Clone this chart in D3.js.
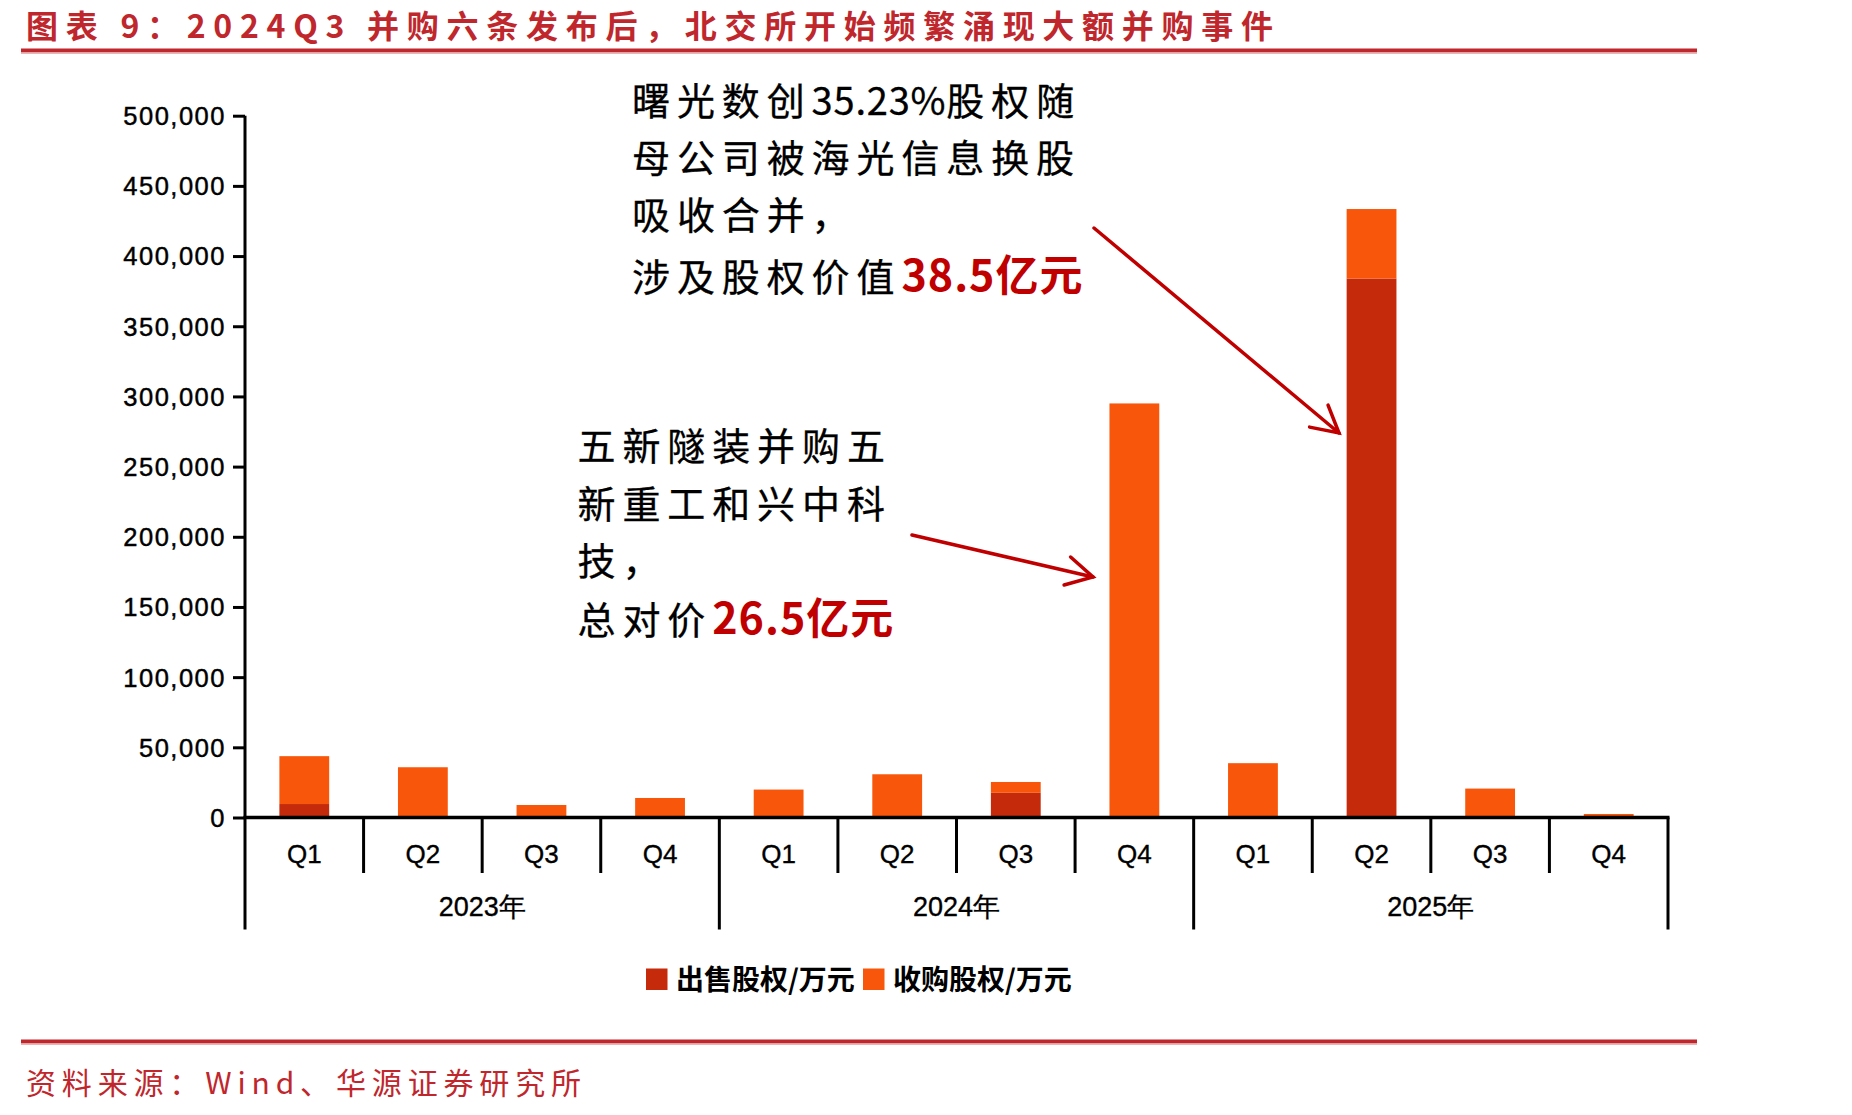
<!DOCTYPE html>
<html>
<head>
<meta charset="utf-8">
<script src="https://cdn.jsdelivr.net/npm/d3@7"></script>
<style>
  html, body { margin: 0; padding: 0; background: #ffffff; }
  svg { display: block; }
</style>
</head>
<body>
<svg id="chart" width="1852" height="1115"></svg>
<script>
// ---------- data ----------
const quarters = ["Q1","Q2","Q3","Q4","Q1","Q2","Q3","Q4","Q1","Q2","Q3","Q4"];
const years = ["2023年","2024年","2025年"];
const sellValues = [9600, 0, 0, 0, 0, 0, 17600, 0, 0, 384000, 0, 0];          // 出售股权/万元
const buyValues  = [34100, 35800, 8900, 13900, 19900, 30800, 7700, 295000, 38700, 49500, 20600, 2500]; // 收购股权/万元
const yTicks = [0, 50000, 100000, 150000, 200000, 250000, 300000, 350000, 400000, 450000, 500000];
const seriesNames = ["出售股权/万元", "收购股权/万元"];
const titleText = "图表 9：2024Q3 并购六条发布后，北交所开始频繁涌现大额并购事件";
const sourceText = "资料来源：Wind、华源证券研究所";
// annotation pieces: [text, isLatin]
const note1Lines = [[["曙光数创", false], ["35.23%", true], ["股权随", false]], [["母公司被海光信息换股", false]], [["吸收合并，", false]]];
const note1Last = ["涉及股权价值", "38.5亿元"];
const note2Lines = [[["五新隧装并购五", false]], [["新重工和兴中科", false]], [["技，", false]]];
const note2Last = ["总对价", "26.5亿元"];

// ---------- styles ----------
const sellColor = "#c52a0b";
const buyColor = "#f8560a";
const brandRed = "#c0272d";
const arrowRed = "#c00000";
const cjk = "'Noto Sans CJK SC', 'Noto Sans', sans-serif";
const latin = "'Liberation Sans', Arial, sans-serif";

const svg = d3.select("#chart");

// ---------- header ----------
svg.append("text")
  .attr("x", 26).attr("y", 37.5)
  .attr("font-family", cjk).attr("font-weight", 700)
  .attr("font-size", 32).attr("fill", brandRed)
  .attr("textLength", 1247).attr("lengthAdjust", "spacing")
  .text(titleText);
svg.append("rect").attr("x", 21).attr("y", 48.5).attr("width", 1676).attr("height", 3.5).attr("fill", brandRed);
svg.append("rect").attr("x", 21).attr("y", 52).attr("width", 1676).attr("height", 1.8).attr("fill", "#e3a3a5");

// ---------- footer ----------
svg.append("rect").attr("x", 21).attr("y", 1039.5).attr("width", 1676).attr("height", 3.5).attr("fill", brandRed);
svg.append("rect").attr("x", 21).attr("y", 1043).attr("width", 1676).attr("height", 1.8).attr("fill", "#e3a3a5");
svg.append("text")
  .attr("x", 26).attr("y", 1094)
  .attr("font-family", cjk)
  .attr("font-size", 30).attr("fill", brandRed)
  .attr("textLength", 555).attr("lengthAdjust", "spacing")
  .text(sourceText);

// ---------- scales ----------
const x0 = 245, x1 = 1668;
const idx = d3.range(quarters.length);
const y = d3.scaleLinear().domain([0, 500000]).range([817.5, 115.7]);
const xEdge = d3.scaleBand().domain(idx).range([x0, x1]).paddingInner(0).paddingOuter(0);
const xBar = d3.scaleBand().domain(idx).range([x0, x1]).paddingInner(0.58).paddingOuter(0.29);

// ---------- bars ----------
const stackData = idx.map(i => ({ i, sell: sellValues[i], buy: buyValues[i] }));
const stack = d3.stack().keys(["sell", "buy"])(stackData);
const colors = { sell: sellColor, buy: buyColor };

svg.append("g").selectAll("g")
  .data(stack).join("g")
  .attr("fill", d => colors[d.key])
  .selectAll("rect")
  .data(d => d.filter(s => s[1] - s[0] > 0))
  .join("rect")
  .attr("x", d => xBar(d.data.i))
  .attr("width", xBar.bandwidth())
  .attr("y", d => y(d[1]))
  .attr("height", d => y(d[0]) - y(d[1]));

// ---------- y axis ----------
const yAxis = d3.axisLeft(y).tickValues(yTicks).tickFormat(d3.format(",")).tickSize(12).tickPadding(7);
const gy = svg.append("g").attr("transform", `translate(${x0},0)`).call(yAxis);
gy.select(".domain").attr("stroke", "#000").attr("stroke-width", 3).attr("d", `M0,${y(500000)}V${y(0)}`);
gy.selectAll(".tick line").attr("stroke", "#000").attr("stroke-width", 3);
gy.selectAll(".tick text")
  .attr("font-family", latin).attr("font-size", 25.5).attr("fill", "#000")
  .attr("stroke", "#000").attr("stroke-width", 0.45)
  .attr("letter-spacing", 1.5).attr("dy", "0.35em");

// ---------- x axis ----------
const gx = svg.append("g");
gx.append("line")
  .attr("x1", x0 - 1.5).attr("x2", x1 + 1.5)
  .attr("y1", y(0)).attr("y2", y(0))
  .attr("stroke", "#000").attr("stroke-width", 3.5);
const bounds = d3.range(quarters.length + 1);
gx.selectAll("line.sep").data(bounds).join("line")
  .attr("class", "sep")
  .attr("x1", k => k < quarters.length ? xEdge(k) : x1)
  .attr("x2", k => k < quarters.length ? xEdge(k) : x1)
  .attr("y1", y(0))
  .attr("y2", k => (k % 4 === 0) ? 929.5 : 873)
  .attr("stroke", "#000").attr("stroke-width", 3);
gx.selectAll("text.q").data(idx).join("text")
  .attr("class", "q")
  .attr("x", i => xEdge(i) + xEdge.bandwidth() / 2)
  .attr("y", 863)
  .attr("text-anchor", "middle")
  .attr("font-family", latin).attr("font-size", 26).attr("fill", "#000")
  .attr("stroke", "#000").attr("stroke-width", 0.35)
  .text(i => quarters[i]);
gx.selectAll("text.yr").data(years).join("text")
  .attr("class", "yr")
  .attr("x", (d, j) => xEdge(j * 4 + 2))
  .attr("y", 916)
  .attr("text-anchor", "middle")
  .attr("font-family", latin).attr("font-size", 27).attr("fill", "#000")
  .attr("stroke", "#000").attr("stroke-width", 0.35)
  .text(d => d);

// ---------- legend ----------
const legend = svg.append("g");
const legendItems = [
  { name: seriesNames[0], color: sellColor, x: 646 },
  { name: seriesNames[1], color: buyColor, x: 863 }
];
legendItems.forEach(it => {
  legend.append("rect").attr("x", it.x).attr("y", 968.5).attr("width", 21.5).attr("height", 21.5).attr("fill", it.color);
  legend.append("text").attr("x", it.x + 30).attr("y", 989.5)
    .attr("font-family", cjk).attr("font-weight", 700).attr("font-size", 28).attr("fill", "#000")
    .text(it.name);
});

// ---------- annotations ----------
const noteSize = 38, noteLS = 6.9;
function note(xLeft, baselines, lines, last) {
  const g = svg.append("g");
  lines.forEach((parts, k) => {
    const t = g.append("text").attr("x", xLeft).attr("y", baselines[k])
      .attr("font-family", cjk).attr("font-size", noteSize).attr("fill", "#000")
      .attr("stroke", "#000").attr("stroke-width", 0.3);
    parts.forEach(p => {
      t.append("tspan").attr("letter-spacing", p[1] ? 0.8 : noteLS).text(p[0]);
    });
  });
  const t = g.append("text").attr("x", xLeft).attr("y", baselines[lines.length])
    .attr("font-family", cjk).attr("fill", "#000");
  t.append("tspan").attr("font-size", noteSize).attr("letter-spacing", noteLS)
    .attr("stroke", "#000").attr("stroke-width", 0.3).text(last[0]);
  t.append("tspan").attr("font-size", 43).attr("font-weight", 700).attr("letter-spacing", 1).attr("fill", arrowRed).text(last[1]);
}
note(632, [115, 172, 229, 291], note1Lines, note1Last);
note(577.5, [460, 518, 575, 634], note2Lines, note2Last);

// ---------- arrows ----------
function arrow(xa, ya, xb, yb) {
  const g = svg.append("g").attr("stroke", arrowRed).attr("stroke-width", 3.5).attr("fill", "none").attr("stroke-linecap", "round");
  g.append("line").attr("x1", xa).attr("y1", ya).attr("x2", xb).attr("y2", yb);
  const ang = Math.atan2(yb - ya, xb - xa);
  const L = 30, a = 0.5;
  const p1 = [xb - L * Math.cos(ang - a), yb - L * Math.sin(ang - a)];
  const p2 = [xb - L * Math.cos(ang + a), yb - L * Math.sin(ang + a)];
  g.append("path").attr("d", `M${p1[0]},${p1[1]}L${xb},${yb}L${p2[0]},${p2[1]}`).attr("stroke-linejoin", "miter");
}
arrow(1094, 228, 1339, 433);
arrow(912, 535, 1093, 577);
</script>
</body>
</html>
